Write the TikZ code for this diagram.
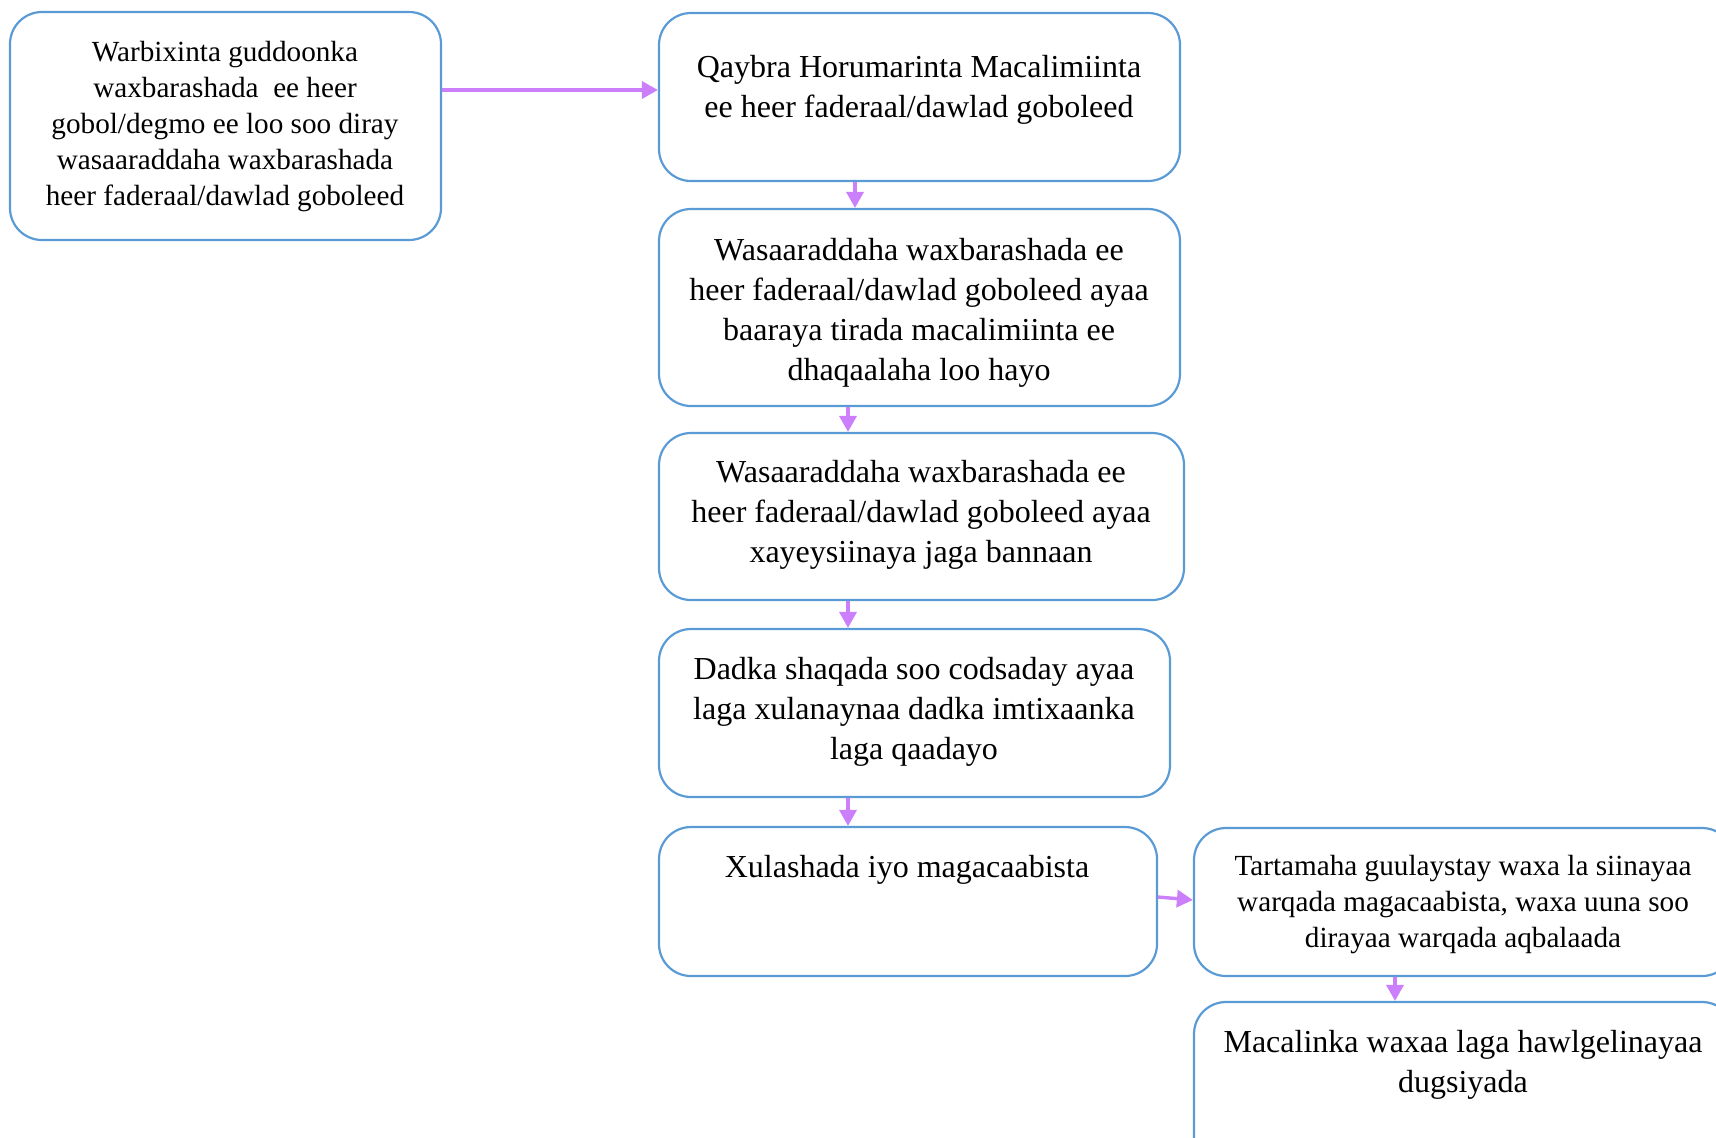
\documentclass[tikz,border=0pt]{standalone}
\usepackage{fontspec}
\setmainfont{Liberation Serif}
\usetikzlibrary{fit,arrows.meta}
\definecolor{boxblue}{HTML}{5B9BD5}
\definecolor{arrpurple}{HTML}{CC7FFA}
\begin{document}
\begin{tikzpicture}[x=0.5pt,y=-0.5pt,
  box/.style={draw=boxblue, line width=1.1pt, rounded corners=16pt, inner sep=0pt},
  txt/.style={align=center, inner sep=0pt, font=\fontsize{16}{20}\selectfont},
  txts/.style={align=center, inner sep=0pt, font=\fontsize{14.6}{18}\selectfont},
  arr/.style={draw=arrpurple, line width=1.7pt, -{Triangle[length=8pt,width=8.5pt]}}]
\useasboundingbox (0,0) rectangle (1716,1137);
\clip (0,0) rectangle (1716,1137);
% boxes
\node[box, fit={(10,12) (441,240)}] (A) {};
\node[box, fit={(659,13) (1180,181)}] (B) {};
\node[box, fit={(659,209) (1180,406)}] (C) {};
\node[box, fit={(659,433) (1184,600)}] (D) {};
\node[box, fit={(659,629) (1170,797)}] (E) {};
\node[box, fit={(659,827) (1157,976)}] (F) {};
\node[box, fit={(1194,828) (1734,976)}] (G) {};
\node[box, fit={(1194,1002) (1734,1180)}] (H) {};
% texts
\node[txts] (tA) at (225,127) {Warbixinta guddoonka\\waxbarashada\ \ ee heer\\gobol/degmo ee loo soo diray\\wasaaraddaha waxbarashada\\heer faderaal/dawlad goboleed};
\node[txt] (tB) at (919,90) {Qaybra Horumarinta Macalimiinta\\ee heer faderaal/dawlad goboleed};
\node[txt] (tC) at (919,313) {Wasaaraddaha waxbarashada ee\\heer faderaal/dawlad goboleed ayaa\\baaraya tirada macalimiinta ee\\dhaqaalaha loo hayo};
\node[txt] (tD) at (921,515) {Wasaaraddaha waxbarashada ee\\heer faderaal/dawlad goboleed ayaa\\xayeysiinaya jaga bannaan};
\node[txt] (tE) at (914,712) {Dadka shaqada soo codsaday ayaa\\laga xulanaynaa dadka imtixaanka\\laga qaadayo};
\node[txt] (tF) at (907,870) {Xulashada iyo magacaabista};
\node[txts] (tG) at (1463,904) {Tartamaha guulaystay waxa la siinayaa\\warqada magacaabista, waxa uuna soo\\dirayaa warqada aqbalaada};
\node[txt] (tH) at (1463,1065) {Macalinka waxaa laga hawlgelinayaa\\dugsiyada};
% arrows
\draw[arr] (A.east |- 0,90) -- (B.west |- 0,90);
\draw[arr] (B.south -| 855,0) -- (C.north -| 855,0);
\draw[arr] (C.south -| 848,0) -- (D.north -| 848,0);
\draw[arr] (D.south -| 848,0) -- (E.north -| 848,0);
\draw[arr] (E.south -| 848,0) -- (F.north -| 848,0);
\draw[arr] (F.east |- 0,897) -- (G.west |- 0,900);
\draw[arr] (G.south -| 1395,0) -- (H.north -| 1395,0);
\end{tikzpicture}
\end{document}
